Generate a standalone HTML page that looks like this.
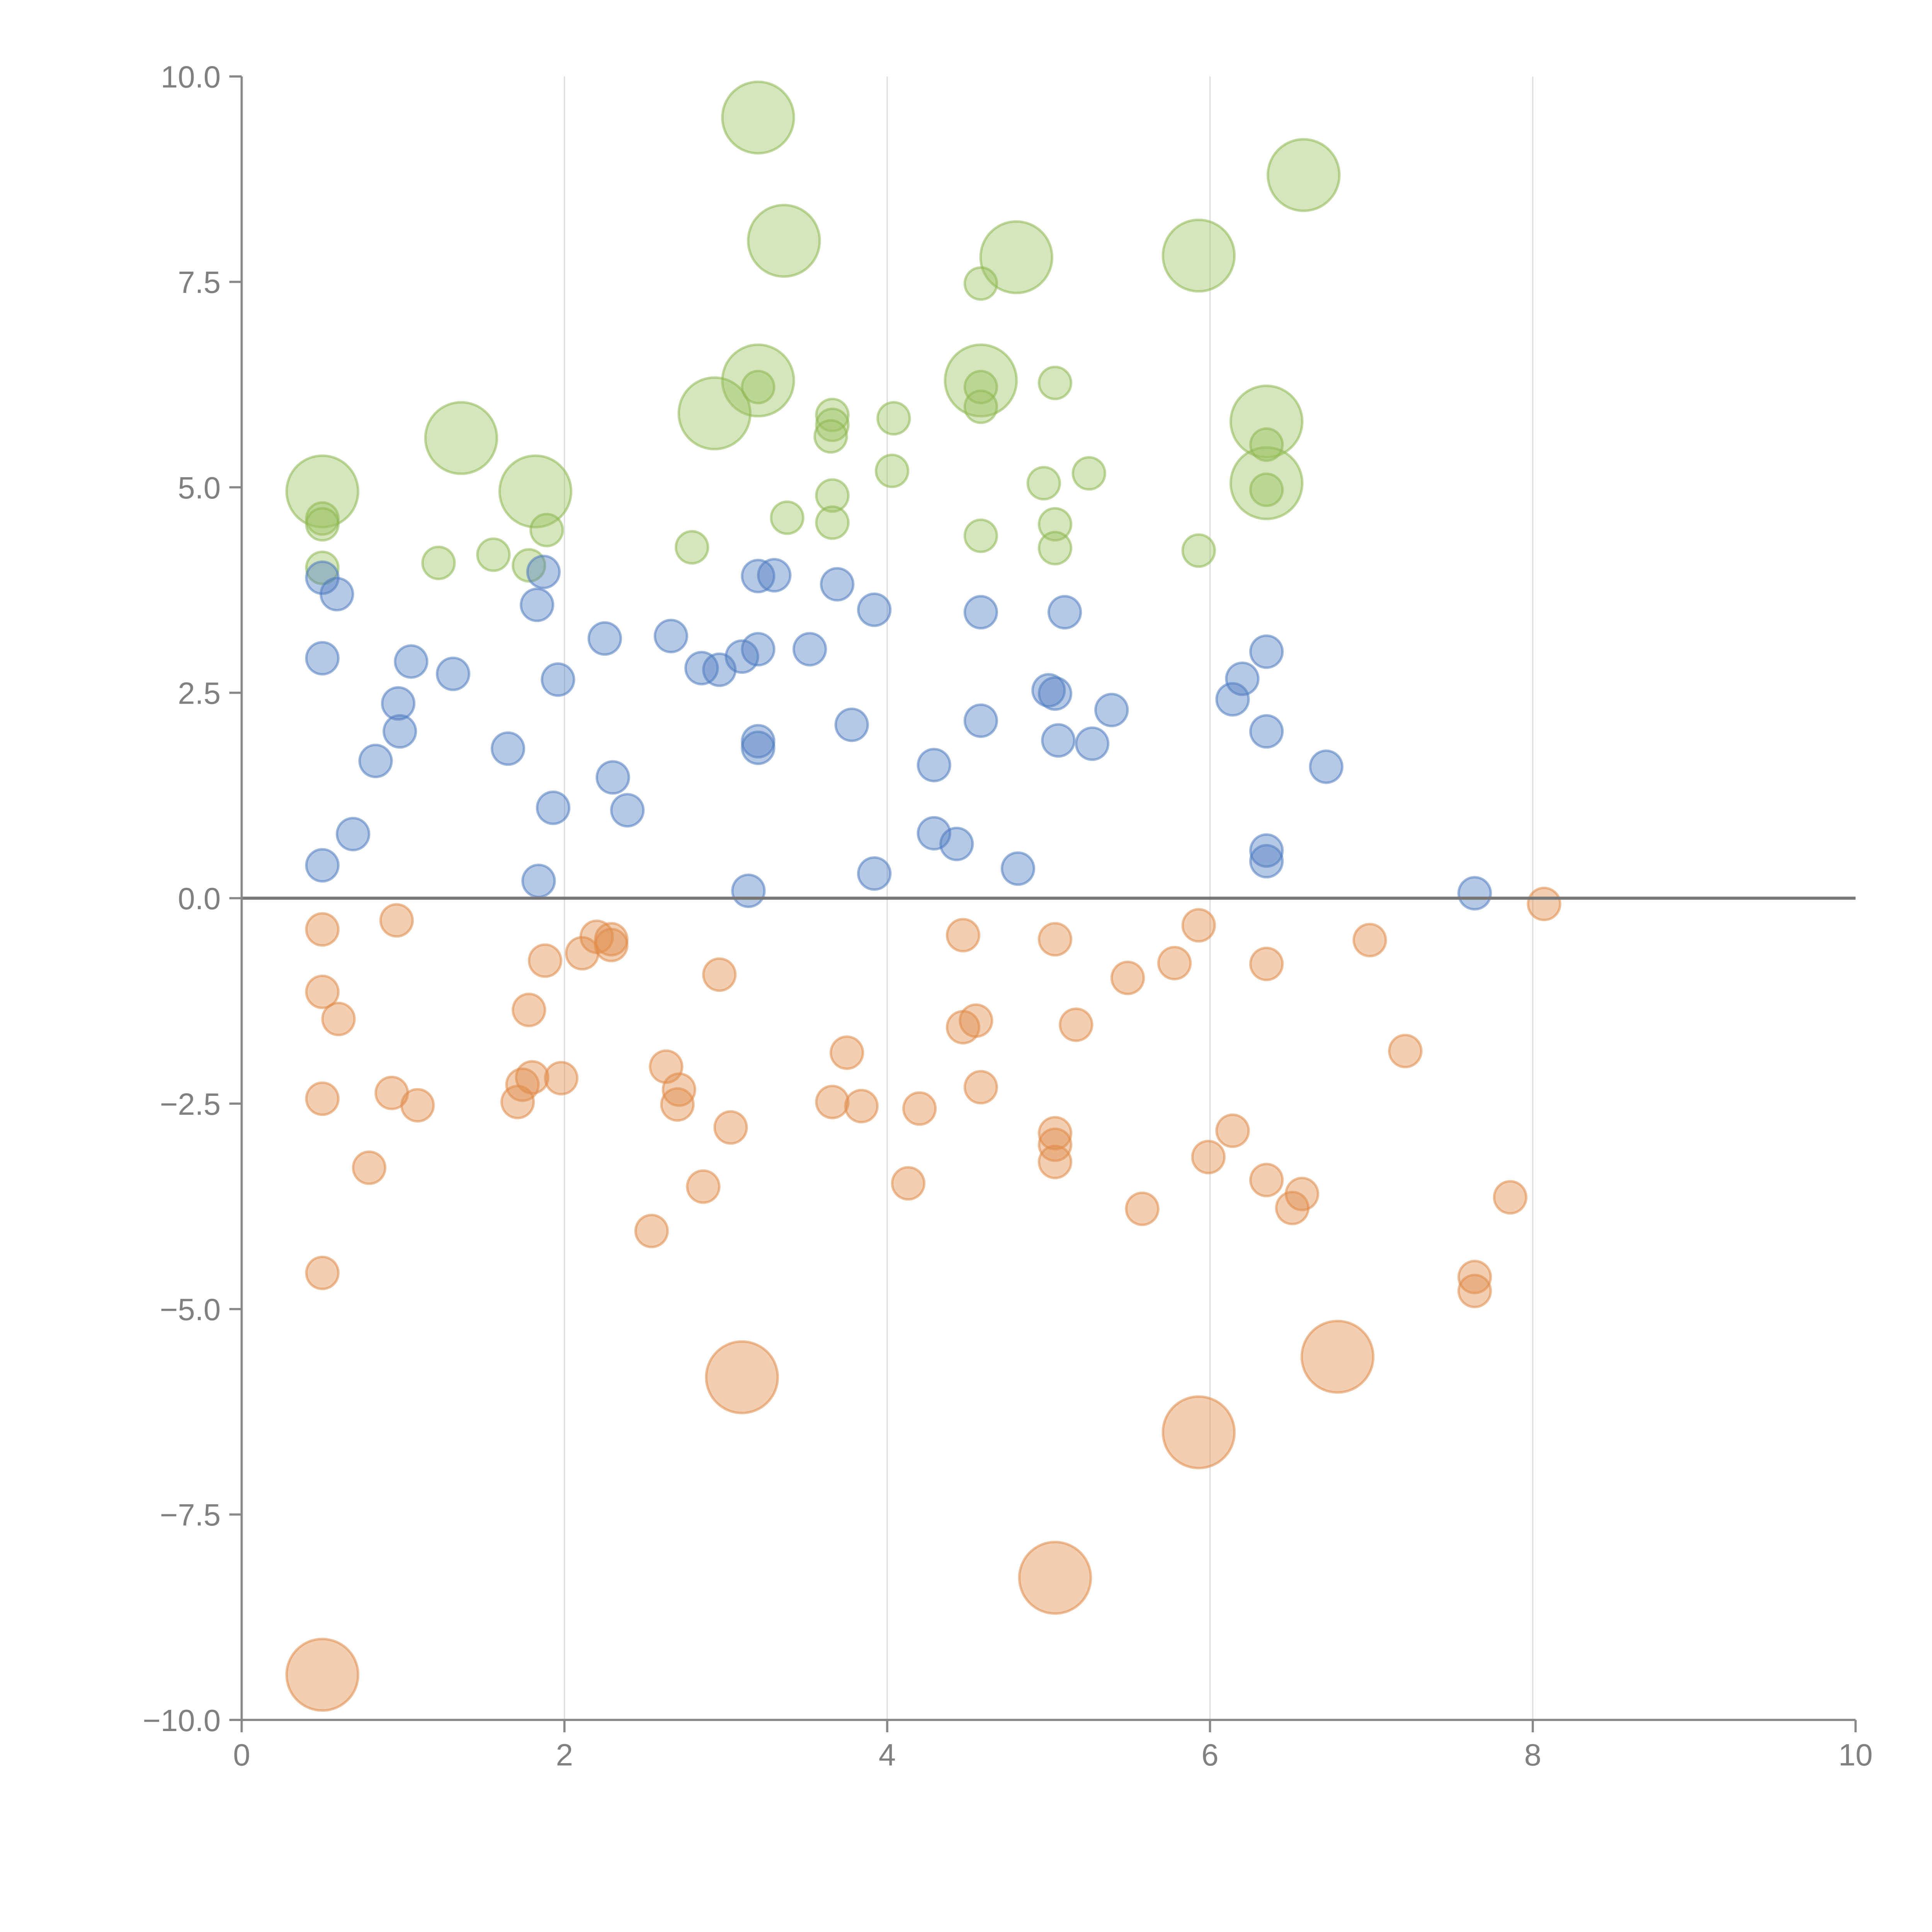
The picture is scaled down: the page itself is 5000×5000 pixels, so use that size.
<!DOCTYPE html>
<html><head><meta charset="utf-8"><style>
html,body{margin:0;padding:0;background:#fff;}
svg{display:block;}
text{font-family:"Liberation Sans",Arial,sans-serif;fill:#808080;}
</style></head><body>
<svg id="chart" width="5000" height="5000" viewBox="0 0 1567 1567" xmlns="http://www.w3.org/2000/svg">
<g id="grid"></g>
<g id="marks"></g>
<g id="axes"></g>
</svg>
<script>
const xTicks=[0,2,4,6,8,10];
const yTicks=[10,7.5,5,2.5,0,-2.5,-5,-7.5,-10];
const yTickLabels=["10.0","7.5","5.0","2.5","0.0","\u22122.5","\u22125.0","\u22127.5","\u221210.0"];
const greenX=[3.2,6.58,3.36,4.8,5.93,4.58,3.2,2.93,1.36,6.35,0.5,1.82,6.35,4.58,3.2,4.58,4.58,5.04,3.66,3.66,3.65,4.04,6.35,4.03,5.25,4.97,6.35,3.66,0.5,0.5,1.89,3.38,3.66,5.04,4.58,5.04,2.79,5.93,1.56,1.22,0.5,1.78];
const greenY=[9.5,8.8,8.0,7.8,7.82,6.3,6.3,5.9,5.6,5.8,4.95,4.95,5.05,7.48,6.22,6.22,5.98,6.27,5.88,5.76,5.62,5.84,5.52,5.2,5.17,5.05,4.97,4.9,4.62,4.55,4.48,4.63,4.57,4.55,4.41,4.26,4.27,4.23,4.18,4.08,4.02,4.05];
const greenSize=[3,3,3,3,3,3,3,3,3,3,3,3,3,1,1,1,1,1,1,1,1,1,1,1,1,1,1,1,1,1,1,1,1,1,1,1,1,1,1,1,1,1];
const blueX=[0.5,0.59,1.87,1.83,3.2,3.3,3.69,3.92,4.58,5.1,0.5,1.05,1.31,1.96,2.25,2.66,3.2,3.1,3.52,2.85,2.96,0.97,0.98,0.83,1.65,3.2,3.2,3.78,4.58,5.0,5.04,5.06,5.27,5.39,6.35,6.2,6.14,6.35,6.72,2.3,4.29,1.93,2.39,0.69,0.5,1.84,3.14,3.92,4.29,4.43,4.81,6.35,6.35,7.64];
const blueY=[3.9,3.7,3.97,3.57,3.92,3.93,3.82,3.51,3.48,3.48,2.92,2.88,2.73,2.66,3.16,3.19,3.03,2.94,3.03,2.8,2.78,2.37,2.03,1.67,1.82,1.91,1.83,2.11,2.16,2.53,2.49,1.92,1.88,2.29,3.0,2.67,2.42,2.03,1.6,1.47,1.62,1.1,1.07,0.78,0.4,0.21,0.09,0.3,0.79,0.66,0.36,0.58,0.45,0.06];
const orangeX=[8.07,0.5,0.96,2.2,2.29,2.29,2.11,1.88,2.96,4.47,5.04,5.93,5.78,6.35,6.99,5.49,0.5,0.6,1.78,4.47,4.55,5.17,3.75,7.21,2.63,1.8,1.98,1.74,0.93,0.5,1.09,1.71,2.71,2.7,3.66,3.84,4.58,4.2,3.03,5.04,5.04,5.04,6.14,5.99,0.79,2.86,4.13,6.35,6.57,6.51,5.58,7.86,2.54,0.5,7.64,7.64,3.1,6.79,5.93,5.04,0.5];
const orangeY=[-0.07,-0.38,-0.27,-0.47,-0.5,-0.57,-0.67,-0.76,-0.93,-0.45,-0.5,-0.33,-0.79,-0.8,-0.51,-0.97,-1.14,-1.47,-1.36,-1.57,-1.49,-1.54,-1.88,-1.86,-2.05,-2.18,-2.19,-2.27,-2.37,-2.44,-2.52,-2.48,-2.33,-2.51,-2.48,-2.53,-2.3,-2.56,-2.79,-2.86,-3.0,-3.21,-2.83,-3.15,-3.28,-3.51,-3.47,-3.43,-3.6,-3.77,-3.78,-3.64,-4.05,-4.56,-4.61,-4.78,-5.83,-5.58,-6.5,-8.27,-9.45];
const orangeSize=orangeX.map((_,i)=>i>=56?3:1);
const blueSize=blueX.map(()=>1);

const X0=196,X1=1505,Y0=62,Y1=1395;
const sx=v=>X0+(v-0)/(10-0)*(X1-X0);
const sy=v=>Y1-(v+10)/20*(Y1-Y0);
const rr=s=>s===3?29:13;
const NS="http://www.w3.org/2000/svg";
function mk(tag,attrs,parent){const e=document.createElementNS(NS,tag);for(const k in attrs)e.setAttribute(k,attrs[k]);parent.appendChild(e);return e;}
const grid=document.getElementById('grid'),marks=document.getElementById('marks'),axes=document.getElementById('axes');

xTicks.slice(1,5).forEach(t=>{
  const l=mk('line',{x1:sx(t),x2:sx(t),y1:Y0,y2:Y1,stroke:'#dddddd','stroke-width':1},grid);
  
  
});

function series(xs,ys,ss,fill,stroke,name){
  const g=mk('g',{},marks);
  
  
  xs.forEach((x,i)=>{
    const c=mk('circle',{cx:sx(x),cy:sy(ys[i]),r:rr(ss[i]),fill:fill,'fill-opacity':0.42,stroke:stroke,'stroke-opacity':0.55,'stroke-width':2},g);
    
    
  });
}
series(greenX,greenY,greenSize,'#9cc060','#8cb850','green');
series(blueX,blueY,blueSize,'#4f7cc0','#4f7cc0','blue');
series(orangeX,orangeY,orangeSize,'#e08a48','#e08a48','orange');

const zl=mk('line',{x1:X0,x2:X1,y1:sy(0),y2:sy(0),stroke:'#777','stroke-width':2.5},axes);


const ya=mk('line',{x1:X0,x2:X0,y1:Y0,y2:Y1+1,stroke:'#888','stroke-width':1.8},axes);


const xa=mk('line',{x1:X0-1,x2:X1,y1:Y1,y2:Y1,stroke:'#888','stroke-width':1.8},axes);


yTicks.forEach((t,i)=>{
  mk('line',{x1:X0-10,x2:X0,y1:sy(t),y2:sy(t),stroke:'#888','stroke-width':1.8},axes);
  const tx=mk('text',{x:X0-17,y:sy(t)+9,'text-anchor':'end','font-size':25},axes);
  tx.textContent=yTickLabels[i];
  
  
});
xTicks.forEach(t=>{
  mk('line',{x1:sx(t),x2:sx(t),y1:Y1,y2:Y1+10,stroke:'#888','stroke-width':1.8},axes);
  const tx=mk('text',{x:sx(t),y:Y1+37,'text-anchor':'middle','font-size':25},axes);
  tx.textContent=String(t);
  
  
});
</script>
</body></html>
